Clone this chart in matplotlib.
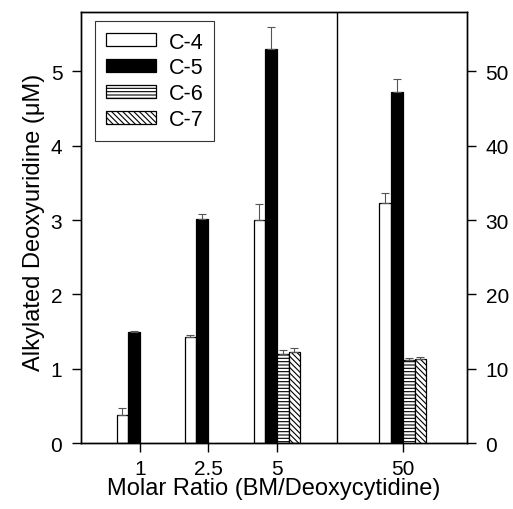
import matplotlib
matplotlib.use("Agg")
import matplotlib.pyplot as plt
from matplotlib.patches import Patch

plt.rcParams['font.family'] = ['Liberation Sans', 'DejaVu Sans']
plt.rcParams['hatch.linewidth'] = 0.8

ratios = ["1", "2.5", "5", "50"]
series = ["C-4", "C-5", "C-6", "C-7"]
# left-axis values (µM) for ratios 1, 2.5, 5 (None = not measured)
c4 = [0.38, 1.43, 3.00]
c5 = [1.50, 3.02, 5.30]
c6 = [None, None, 1.20]
c7 = [None, None, 1.23]
c4_err = [0.10, 0.02, 0.21]
c5_err = [0.01, 0.06, 0.30]
c6_err = [0.0, 0.0, 0.05]
c7_err = [0.0, 0.0, 0.05]
# right-axis values (µM) for ratio 50
r50 = [32.3, 47.2, 11.2, 11.3]
r50_err = [1.3, 1.8, 0.3, 0.3]

fig = plt.figure(figsize=(5.13, 5.10), dpi=100)
ax = fig.add_axes([0.158, 0.129, 0.752, 0.846])
ax2 = ax.twinx()

group_pos = [59, 127, 196, 322]
bw = 11.7
divider = 256
styles = [dict(facecolor='white', hatch=None),
          dict(facecolor='black', hatch=None),
          dict(facecolor='white', hatch='-----'),
          dict(facecolor='white', hatch='\\\\\\\\\\\\')]

left_vals = [c4, c5, c6, c7]
left_errs = [c4_err, c5_err, c6_err, c7_err]
for i, (vals, errs, st) in enumerate(zip(left_vals, left_errs, styles)):
    for g, v, e in zip(group_pos[:3], vals, errs):
        if v is None:
            continue
        x = g + (i - 1.5) * bw
        ax.bar(x, v, width=bw, edgecolor='black', linewidth=0.9, **st)
        ax.errorbar(x, v, yerr=[[0], [e]], color='#555555', capsize=3, elinewidth=0.8, capthick=0.8)

for i, st in enumerate(styles):
    x = group_pos[3] + (i - 1.5) * bw
    ax2.bar(x, r50[i], width=bw, edgecolor='black', linewidth=0.9, **st)
    ax2.errorbar(x, r50[i], yerr=[[0], [r50_err[i]]], color='#555555', capsize=3, elinewidth=0.8, capthick=0.8)

ax.axvline(divider, color='black', linewidth=1.0)
ax.set_xlim(0, 386)
ax.set_ylim(0, 5.8)
ax2.set_ylim(0, 58)
ax.set_yticks([0, 1, 2, 3, 4, 5])
ax2.set_yticks([0, 10, 20, 30, 40, 50])
ax.set_xticks(group_pos)
ax.set_xticklabels(ratios)
for a in (ax, ax2):
    a.tick_params(direction='out', length=6.5, width=1, labelsize=15, colors='black')
    for s in a.spines.values():
        s.set_linewidth(1.0)
ax.tick_params(axis='y', pad=7)
ax2.tick_params(axis='y', pad=7)
ax.tick_params(axis='x', pad=5)
ax.set_ylabel("Alkylated Deoxyuridine (\u03bcM)", fontsize=17)
ax.yaxis.set_label_coords(-0.093, 0.515)
ax.set_xlabel("Molar Ratio (BM/Deoxycytidine)", fontsize=17, labelpad=-1)

handles = [Patch(edgecolor='black', linewidth=0.9, label=s, **st) for s, st in zip(series, styles)]
leg = ax.legend(handles=handles, loc='upper left', bbox_to_anchor=(0.036, 0.979),
                borderaxespad=0, fontsize=15.5, frameon=True, fancybox=False, edgecolor='black',
                handlelength=2.33, handleheight=0.55, labelspacing=0.22, borderpad=0.5,
                handletextpad=0.6)
leg.get_frame().set_linewidth(0.8)

fig.savefig("out.png", dpi=100)
